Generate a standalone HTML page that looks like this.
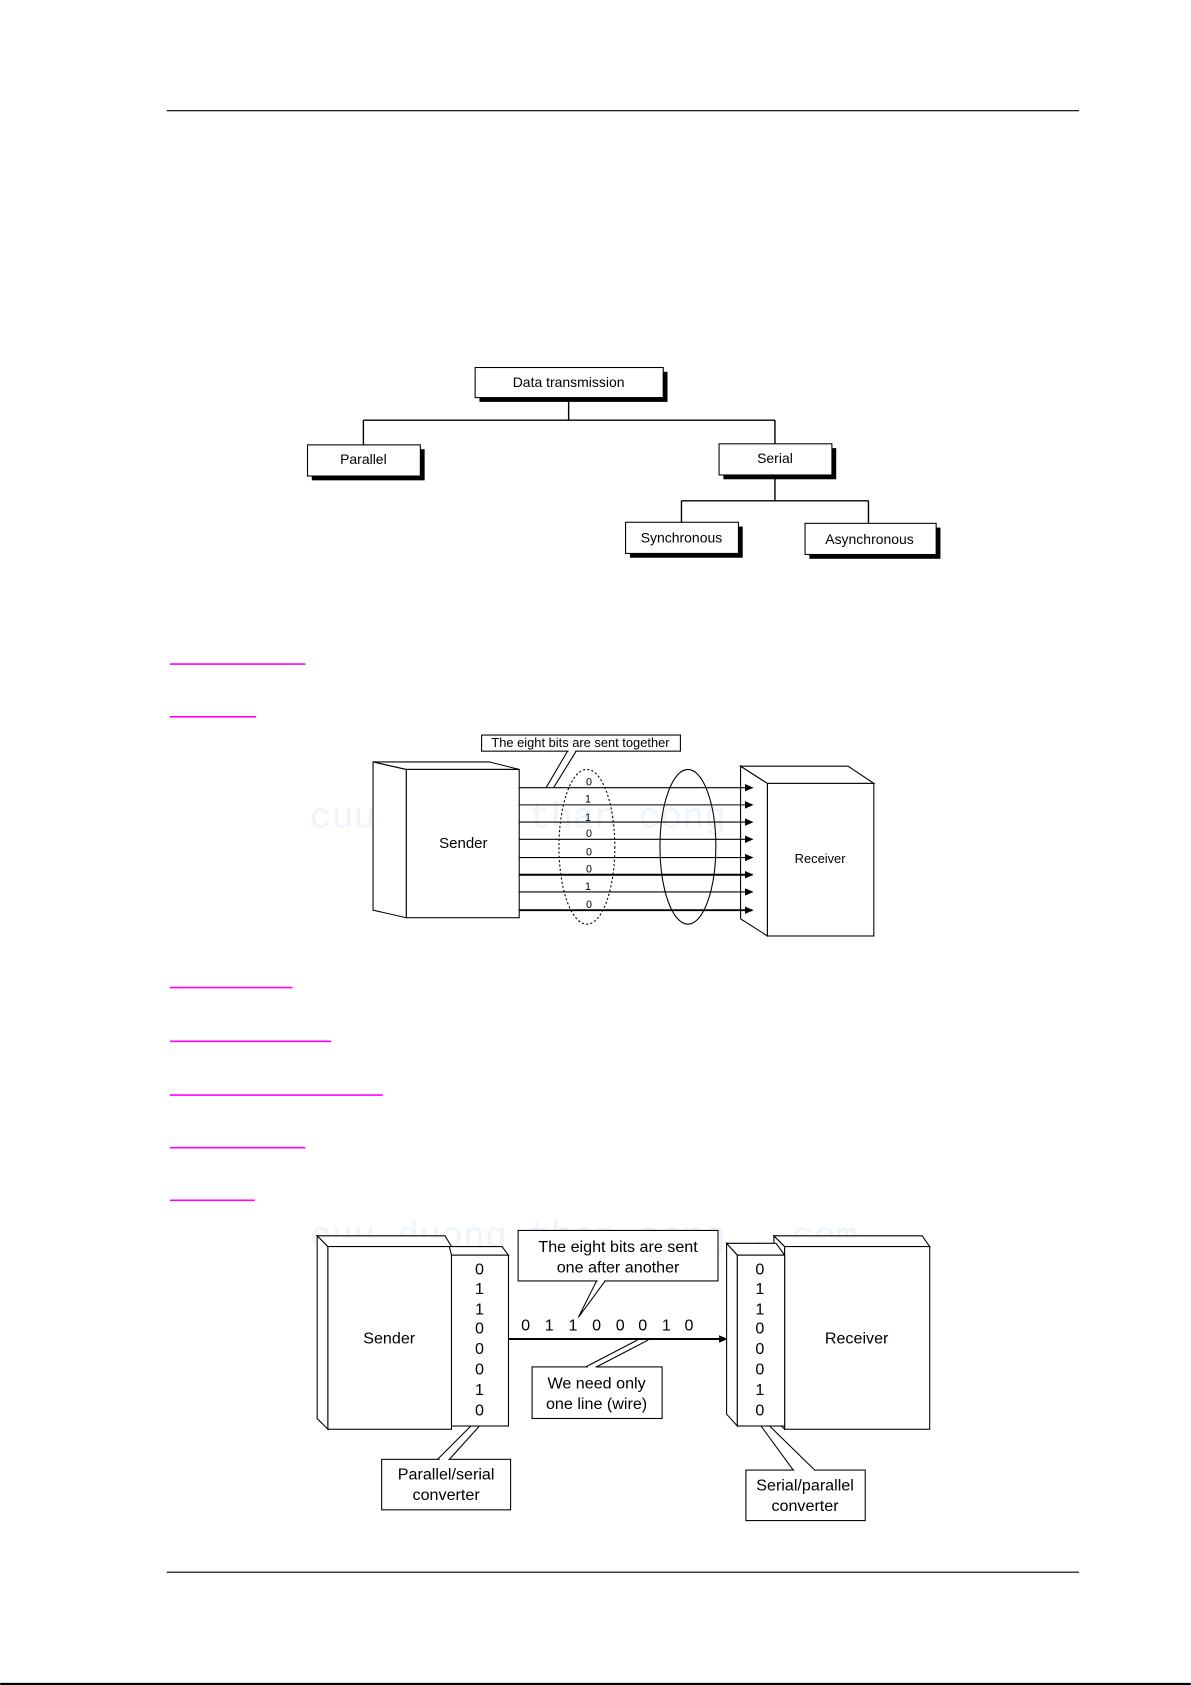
<!DOCTYPE html>
<html><head><meta charset="utf-8"><style>html,body{margin:0;padding:0;background:#fff}svg{display:block}text{font-family:"Liberation Sans",Arial,sans-serif;fill:#000}</style></head>
<body>
<svg width="1191" height="1685" viewBox="0 0 1108 1568" xmlns="http://www.w3.org/2000/svg">
<defs><marker id="a" markerWidth="8" markerHeight="8" refX="7" refY="4" orient="auto" markerUnits="userSpaceOnUse"><path d="M0,0.5 L8,4 L0,7.5z" fill="#000"/></marker></defs>
<g font-size="34" style="font-family:'Liberation Mono',monospace" fill="#eef4fb">
<text x="288" y="770" style="fill:#eef4fb;font-family:'Liberation Mono',monospace">cuu duong than cong . com</text>
<text x="288" y="1160" style="fill:#eef4fb;font-family:'Liberation Mono',monospace">cuu duong than cong . com</text>
</g>
<g stroke="#000" stroke-width="1">
<line x1="155" y1="103" x2="1004" y2="103"/>
<line x1="155" y1="1463" x2="1004" y2="1463"/>
</g>
<rect x="0" y="1566" width="1108" height="2" fill="#000"/>
<g stroke="#f0f" stroke-width="1.5">
<line x1="158" y1="618" x2="284" y2="618"/><line x1="158" y1="667" x2="238" y2="667"/>
<line x1="158" y1="919" x2="272" y2="919"/><line x1="158" y1="969" x2="308" y2="969"/>
<line x1="158" y1="1019" x2="356" y2="1019"/><line x1="158" y1="1068" x2="284" y2="1068"/>
<line x1="158" y1="1117" x2="237" y2="1117"/>
</g>
<g stroke="#000" fill="none" stroke-width="1.3">
<path d="M529 372V391M338 391H721M338 391V414M721 391V413M721 444V466M634 466H808M634 466V486M808 466V487"/>
</g>
<g fill="#000">
<rect x="446" y="346" width="175" height="28"/><rect x="290" y="418" width="105" height="29"/>
<rect x="673" y="417" width="105" height="29"/><rect x="586" y="490" width="105" height="29"/>
<rect x="753" y="491" width="122" height="29"/>
</g>
<g fill="#fff" stroke="#000">
<rect x="442" y="342" width="175" height="28"/><rect x="286" y="414" width="105" height="29"/>
<rect x="669" y="413" width="105" height="29"/><rect x="582" y="486" width="105" height="29"/>
<rect x="749" y="487" width="122" height="29"/>
</g>
<g font-size="13" text-anchor="middle">
<text x="529" y="360">Data transmission</text><text x="338" y="432">Parallel</text>
<text x="721" y="431">Serial</text><text x="634" y="505">Synchronous</text><text x="809" y="506">Asynchronous</text>
</g>
<g stroke="#000" fill="#fff">
<path d="M347 709L378 716V854L347 847Z"/><path d="M347 709H455L483 716H378Z"/>
<rect x="378" y="716" width="105" height="138"/>
<path d="M689 713L714 729V871L689 855Z"/><path d="M689 713H789L813 729H714Z"/>
<rect x="714" y="729" width="99" height="142"/>
<rect x="448" y="684" width="185" height="15"/>
</g>
<path d="M508 733L528 699M515 733L536 699" stroke="#000" fill="none"/>
<line x1="529" y1="699" x2="535" y2="699" stroke="#fff" stroke-width="2"/>
<g stroke="#000" marker-end="url(#a)">
<line x1="483" y1="733" x2="700" y2="733"/><line x1="483" y1="749" x2="700" y2="749"/>
<line x1="483" y1="765" x2="700" y2="765"/><line x1="483" y1="781" x2="700" y2="781"/>
<line x1="483" y1="798" x2="700" y2="798"/><line x1="483" y1="814" x2="700" y2="814" stroke-width="1.8"/>
<line x1="483" y1="830" x2="700" y2="830"/><line x1="483" y1="847" x2="700" y2="847" stroke-width="1.8"/>
</g>
<ellipse cx="546" cy="788" rx="26" ry="72" fill="none" stroke="#000" stroke-dasharray="2,2"/>
<ellipse cx="640" cy="788" rx="26" ry="72" fill="none" stroke="#000"/>
<g font-size="10" text-anchor="middle">
<text x="548" y="731">0</text><text x="547" y="747">1</text><text x="547" y="764">1</text><text x="548" y="779">0</text>
<text x="548" y="796">0</text><text x="548" y="812">0</text><text x="547" y="828">1</text><text x="548" y="845">0</text>
</g>
<text x="540" y="695" font-size="12" text-anchor="middle">The eight bits are sent together</text>
<text x="431" y="789" font-size="14" text-anchor="middle">Sender</text>
<text x="763" y="803" font-size="12" text-anchor="middle">Receiver</text>
<g stroke="#000" fill="#fff">
<path d="M295 1150L305 1160V1330L295 1320Z"/><path d="M295 1150H414L420 1160H305Z"/>
<rect x="305" y="1160" width="115" height="170"/>
<path d="M418 1160H467L473 1168H420Z"/>
<rect x="420" y="1168" width="53" height="159"/>
<path d="M720 1150L730 1160V1330L720 1320Z"/><path d="M720 1150H858L865 1160H730Z"/>
<rect x="730" y="1160" width="135" height="170"/>
<path d="M676 1157L686 1168V1327L676 1316Z"/><path d="M676 1157H722L730 1168H686Z"/>
<rect x="686" y="1168" width="44" height="159"/>
<rect x="482" y="1145" width="186" height="47"/>
<rect x="495" y="1272" width="121" height="48"/>
<rect x="355" y="1358" width="120" height="47"/>
<rect x="694" y="1368" width="111" height="47"/>
</g>
<line x1="473" y1="1246" x2="676" y2="1246" stroke="#000" stroke-width="1.8" marker-end="url(#a)"/>
<g stroke="#000" fill="none">
<path d="M555 1192L538 1226L563 1192"/>
<path d="M603 1247L555 1272M593 1247L545 1272" />
<path d="M446 1327L418 1358M438 1327L407 1358"/>
<path d="M708 1327L738 1368M716 1327L758 1368"/>
</g>
<g stroke="#fff" stroke-width="2"><line x1="556" y1="1192" x2="562" y2="1192"/><line x1="547" y1="1272" x2="554" y2="1272"/><line x1="409" y1="1358" x2="417" y2="1358"/><line x1="739" y1="1368" x2="757" y2="1368"/></g>
<g font-size="15" text-anchor="middle">
<text x="446" y="1186">0</text><text x="446" y="1204">1</text><text x="446" y="1223">1</text><text x="446" y="1241">0</text>
<text x="446" y="1260">0</text><text x="446" y="1279">0</text><text x="446" y="1298">1</text><text x="446" y="1317">0</text>
<text x="707" y="1186">0</text><text x="707" y="1204">1</text><text x="707" y="1223">1</text><text x="707" y="1241">0</text>
<text x="707" y="1260">0</text><text x="707" y="1279">0</text><text x="707" y="1298">1</text><text x="707" y="1317">0</text>
<text x="489" y="1238">0</text><text x="511" y="1238">1</text><text x="533" y="1238">1</text><text x="555" y="1238">0</text>
<text x="577" y="1238">0</text><text x="598" y="1238">0</text><text x="620" y="1238">1</text><text x="641" y="1238">0</text>
<text x="362" y="1250">Sender</text><text x="797" y="1250">Receiver</text>
<text x="575" y="1165">The eight bits are sent</text><text x="575" y="1184">one after another</text>
<text x="555" y="1292">We need only</text><text x="555" y="1311">one line (wire)</text>
<text x="415" y="1377">Parallel/serial</text><text x="415" y="1396">converter</text>
<text x="749" y="1387">Serial/parallel</text><text x="749" y="1406">converter</text>
</g>
</svg>
</body></html>
